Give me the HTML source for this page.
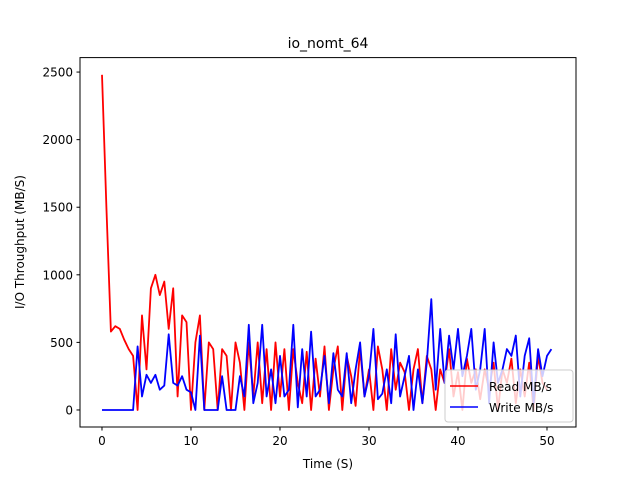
<!DOCTYPE html>
<html><head><meta charset="utf-8"><style>
body{margin:0;background:#fff;font-family:"Liberation Sans","DejaVu Sans",sans-serif;}
svg text{font-family:"DejaVu Sans","Liberation Sans",sans-serif;}
</style></head><body>
<svg id="c" width="640" height="480" xmlns="http://www.w3.org/2000/svg">
<rect width="640" height="480" fill="#fff"/>
<text x="328" y="48" text-anchor="middle" font-size="14">io_nomt_64</text>
<g id="plot"></g>
<rect x="80" y="57.6" width="496" height="369.4" fill="none" stroke="#000" stroke-width="1"/>
<g id="ticks"></g>
<text x="328" y="468" text-anchor="middle" font-size="12">Time (S)</text>
<text transform="translate(24,242) rotate(-90)" text-anchor="middle" font-size="12">I/O Throughput (MB/S)</text>
<g>
<rect x="445" y="370" width="128" height="52" rx="3" fill="#fff" fill-opacity="0.8" stroke="#ccc"/>
<g><line x1="450" y1="386" x2="478" y2="386" stroke="red" stroke-width="1.5"/><text x="489" y="391" font-size="12">Read MB/s</text></g>
<g><line x1="450" y1="407" x2="478" y2="407" stroke="blue" stroke-width="1.5"/><text x="489" y="412" font-size="12">Write MB/s</text></g>
</g>
</svg>
<script>
const timeStep = 0.5;
const readValues = [2480,1500,580,620,600,520,450,400,0,700,300,900,1000,850,950,600,900,100,700,650,0,500,700,0,500,450,0,450,400,0,500,350,0,500,100,500,50,450,0,500,100,450,0,450,200,50,430,0,380,100,470,0,300,470,0,400,250,30,450,100,300,0,470,300,0,450,150,350,280,0,300,450,50,400,300,0,300,200,450,100,280,0,380,200,300,80,300,150,350,0,300,200,380,50,300,100,350,0,400,200,150];
const writeValues = [0,0,0,0,0,0,0,0,470,100,260,200,260,150,180,560,200,180,250,150,130,0,550,0,0,0,0,250,0,0,0,250,100,630,50,200,630,100,300,50,400,100,150,630,20,450,100,580,100,150,400,50,420,150,100,420,50,300,500,100,250,600,80,120,300,50,560,100,250,400,0,300,50,350,820,150,600,200,550,300,600,250,400,600,150,300,600,50,500,200,300,450,400,550,100,400,530,50,450,250,400,450];
const xTicks = [0,10,20,30,40,50];
const yTicks = [0,500,1000,1500,2000,2500];
const X0=80,X1=576,Y0=427,Y1=57.6,xmin=-2.47,xmax=53.26,ymin=-126,ymax=2607;
const sx=v=>X0+(v-xmin)/(xmax-xmin)*(X1-X0);
const sy=v=>Y0-(v-ymin)/(ymax-ymin)*(Y0-Y1);
const NS="http://www.w3.org/2000/svg";
const plot=document.getElementById('plot');
function line(vals,color,name){
  const p=document.createElementNS(NS,'polyline');
  p.setAttribute('points',vals.map((v,i)=>sx(i*timeStep).toFixed(1)+','+sy(v).toFixed(1)).join(' '));
  p.setAttribute('fill','none');p.setAttribute('stroke',color);p.setAttribute('stroke-width','1.8');
  p.setAttribute('stroke-linejoin','round');
  
  
  plot.appendChild(p);
}
line(readValues,'red','read-series-line');
line(writeValues,'blue','write-series-line');
const tg=document.getElementById('ticks');
xTicks.forEach(t=>{
  const g=document.createElementNS(NS,'g');
  
  
  const x=sx(t);
  g.innerHTML=`<line x1="${x}" y1="427" x2="${x}" y2="430.5" stroke="#000"/><text x="${x}" y="445" text-anchor="middle" font-size="12">${t}</text>`;
  tg.appendChild(g);
});
yTicks.forEach(t=>{
  const g=document.createElementNS(NS,'g');
  
  
  const y=sy(t);
  g.innerHTML=`<line x1="76.5" y1="${y}" x2="80" y2="${y}" stroke="#000"/><text x="73" y="${y+4.5}" text-anchor="end" font-size="12">${t}</text>`;
  tg.appendChild(g);
});
</script>
</body></html>
